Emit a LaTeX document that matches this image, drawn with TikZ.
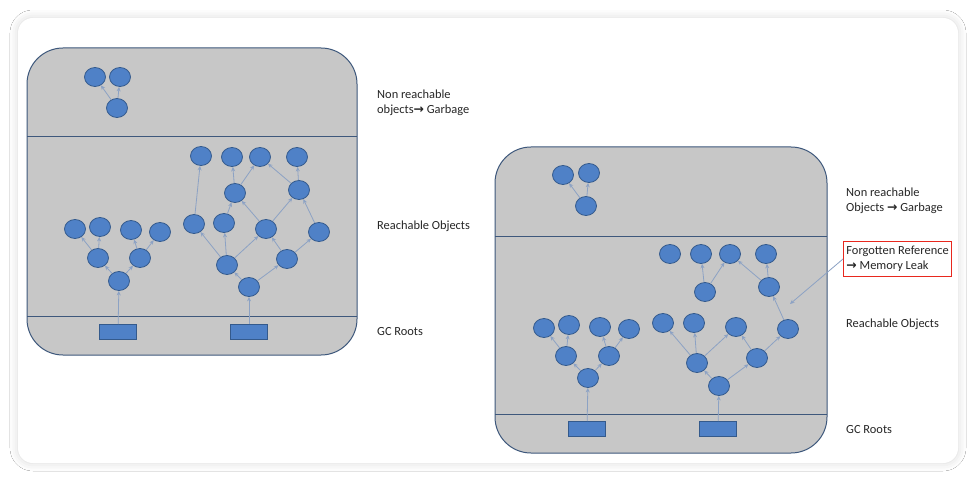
\documentclass[tikz,border=0pt]{standalone}
\usepackage{fontspec}
\setmainfont{Carlito}
\newfontfamily\arrowfont{DejaVu Sans}
\usetikzlibrary{arrows.meta,shapes.geometric,shadows.blur}

\definecolor{panelgray}{RGB}{199,199,199}
\definecolor{panelline}{RGB}{62,88,124}
\definecolor{objblue}{RGB}{79,129,199}
\definecolor{objedge}{RGB}{52,90,140}
\definecolor{refblue}{RGB}{140,162,196}
\definecolor{leakred}{RGB}{232,40,30}

\tikzset{
  obj/.style={ellipse, draw=objedge, fill=objblue, line width=0.8pt,
    minimum width=21pt, minimum height=19pt, inner sep=0pt},
  gcroot/.style={rectangle, draw=objedge, fill=objblue, line width=0.8pt,
    minimum width=37pt, minimum height=15pt, inner sep=0pt},
  ref/.style={draw=refblue, line width=0.8pt, -{Stealth[length=4.5pt,width=4pt]}},
  heap/.style={draw=panelline, fill=panelgray, line width=1pt, rounded corners=36pt},
  divider/.style={draw=panelline, line width=1pt},
  sidetext/.style={anchor=west, align=left, inner sep=0pt, text=black!85,
    font=\fontsize{12.4}{15}\selectfont}
}

\begin{document}
\begin{tikzpicture}[x=1pt, y=-1pt]
  % page and card
  \fill[white] (0,0) rectangle (977,481);
  \useasboundingbox (0,0) rectangle (977,481);
  \fill[white, rounded corners=15pt,
    blur shadow={shadow xshift=0pt, shadow yshift=0pt,
      shadow blur radius=8pt, shadow opacity=16}]
    (18,18) rectangle (958,463);

  % heaps
  \path[heap] (27,48) rectangle (357,355);
  \draw[divider] (27,137) -- (357,137);
  \draw[divider] (27,316) -- (357,316);
  \path[heap] (495,147) rectangle (827,453);
  \draw[divider] (495,236) -- (827,236);
  \draw[divider] (495,414) -- (827,414);

  % left heap: garbage
  \node[obj] (La) at (95,77) {};
  \node[obj] (Lb) at (120,77) {};
  \node[obj] (Lc) at (117,108) {};
  % left heap: first tree
  \node[gcroot] (Lr1) at (118,332) {};
  \node[obj] (Lt1) at (119,281) {};
  \node[obj] (Lm1) at (98,258) {};
  \node[obj] (Lm2) at (140,258) {};
  \node[obj] (Ll1) at (75,229) {};
  \node[obj] (Ll2) at (100,227) {};
  \node[obj] (Ll3) at (131,230) {};
  \node[obj] (Ll4) at (160,232) {};
  % left heap: second tree
  \node[gcroot] (Lr2) at (249,332) {};
  \node[obj] (Ls) at (249,287) {};
  \node[obj] (Lp1) at (227,265) {};
  \node[obj] (Lp2) at (287,259) {};
  \node[obj] (Lq1) at (194,224) {};
  \node[obj] (Lq2) at (224,223) {};
  \node[obj] (Lq3) at (266,229) {};
  \node[obj] (Lq4) at (319,232) {};
  \node[obj] (Lu1) at (235,193) {};
  \node[obj] (Lu2) at (299,190) {};
  \node[obj] (Lv1) at (201,156) {};
  \node[obj] (Lv2) at (232,157) {};
  \node[obj] (Lv3) at (260,157) {};
  \node[obj] (Lv4) at (297,157) {};

  \draw[ref] (Lc) -- (La);
  \draw[ref] (Lc) -- (Lb);
  \draw[ref] (Lr1) -- (Lt1);
  \draw[ref] (Lt1) -- (Lm1);
  \draw[ref] (Lt1) -- (Lm2);
  \draw[ref] (Lm1) -- (Ll1);
  \draw[ref] (Lm1) -- (Ll2);
  \draw[ref] (Lm2) -- (Ll3);
  \draw[ref] (Lm2) -- (Ll4);
  \draw[ref] (Lr2) -- (Ls);
  \draw[ref] (Ls) -- (Lp1);
  \draw[ref] (Ls) -- (Lp2);
  \draw[ref] (Lp1) -- (Lq1);
  \draw[ref] (Lp1) -- (Lq2);
  \draw[ref] (Lp1) -- (Lq3);
  \draw[ref] (Lp2) -- (Lq3);
  \draw[ref] (Lp2) -- (Lq4);
  \draw[ref] (Lq1) -- (Lv1);
  \draw[ref] (Lq2) -- (Lu1);
  \draw[ref] (Lq3) -- (Lu1);
  \draw[ref] (Lq3) -- (Lu2);
  \draw[ref] (Lq4) -- (Lu2);
  \draw[ref] (Lu1) -- (Lv2);
  \draw[ref] (Lu1) -- (Lv3);
  \draw[ref] (Lu2) -- (Lv3);
  \draw[ref] (Lu2) -- (Lv4);

  % right heap: garbage
  \node[obj] (Ra) at (563,175) {};
  \node[obj] (Rb) at (589,173) {};
  \node[obj] (Rc) at (586,206) {};
  % right heap: first tree
  \node[gcroot] (Rr1) at (587,429) {};
  \node[obj] (Rt1) at (588,378) {};
  \node[obj] (Rm1) at (566,356) {};
  \node[obj] (Rm2) at (609,356) {};
  \node[obj] (Rl1) at (544,328) {};
  \node[obj] (Rl2) at (569,325) {};
  \node[obj] (Rl3) at (600,327) {};
  \node[obj] (Rl4) at (629,329) {};
  % right heap: second tree
  \node[gcroot] (Rr2) at (718,429) {};
  \node[obj] (Rs) at (719,386) {};
  \node[obj] (Rp1) at (697,363) {};
  \node[obj] (Rp2) at (757,358) {};
  \node[obj] (Rq1) at (663,323) {};
  \node[obj] (Rq2) at (694,323) {};
  \node[obj] (Rq3) at (736,327) {};
  \node[obj] (Rq4) at (788,329) {};
  \node[obj] (Ru1) at (705,292) {};
  \node[obj] (Ru2) at (769,287) {};
  \node[obj] (Rv1) at (670,254) {};
  \node[obj] (Rv2) at (701,254) {};
  \node[obj] (Rv3) at (730,254) {};
  \node[obj] (Rv4) at (766,254) {};

  \draw[ref] (Rc) -- (Ra);
  \draw[ref] (Rc) -- (Rb);
  \draw[ref] (Rr1) -- (Rt1);
  \draw[ref] (Rt1) -- (Rm1);
  \draw[ref] (Rt1) -- (Rm2);
  \draw[ref] (Rm1) -- (Rl1);
  \draw[ref] (Rm1) -- (Rl2);
  \draw[ref] (Rm2) -- (Rl3);
  \draw[ref] (Rm2) -- (Rl4);
  \draw[ref] (Rr2) -- (Rs);
  \draw[ref] (Rs) -- (Rp1);
  \draw[ref] (Rs) -- (Rp2);
  \draw[ref] (Rp1) -- (Rq1);
  \draw[ref] (Rp1) -- (Rq2);
  \draw[ref] (Rp1) -- (Rq3);
  \draw[ref] (Rp2) -- (Rq3);
  \draw[ref] (Rp2) -- (Rq4);
  \draw[ref] (Rq4) -- (Ru2);
  \draw[ref] (Ru2) -- (Rv3);
  \draw[ref] (Ru2) -- (Rv4);
  \draw[ref] (Ru1) -- (Rv2);
  \draw[ref] (Ru1) -- (Rv3);

  % captions
  \node[sidetext] (Lgarbage) at (377,103) {Non reachable\\objects{\arrowfont\bfseries →} Garbage};
  \node[sidetext] (Lreach) at (377,226) {Reachable Objects};
  \node[sidetext] (Lroots) at (377,332) {GC Roots};
  \node[sidetext] (Rgarbage) at (846,201) {Non reachable\\Objects {\arrowfont\bfseries →} Garbage};
  \node[sidetext, draw=leakred, line width=0.9pt, inner xsep=3pt, inner ysep=5pt]
    (leak) at (843,259) {Forgotten Reference\\{\arrowfont\bfseries →} Memory Leak};
  \node[sidetext] (Rreach) at (846,324) {Reachable Objects};
  \node[sidetext] (Rroots) at (846,430) {GC Roots};

  \coordinate (leakend) at (790,304);
  \draw[ref] (leak.west) -- (leakend);
\end{tikzpicture}
\end{document}
